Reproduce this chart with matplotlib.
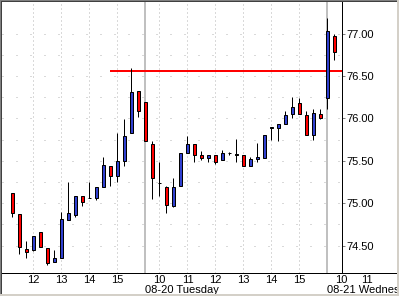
import matplotlib
matplotlib.use('Agg')
import matplotlib.pyplot as plt
from matplotlib.patches import Rectangle
from matplotlib.lines import Line2D
import matplotlib.transforms as mtransforms

plt.rcParams['font.family'] = ['Liberation Sans', 'DejaVu Sans']

# ---- data (15-minute bars) ----
opens = [75.12, 74.87, 74.46, 74.45, 74.66, 74.47, 74.31, 74.355, 74.80, 74.86,
         75.09, 75.06, 75.06, 75.19, 75.44, 75.32, 75.50, 75.83, 76.32,
         76.19, 75.70, 75.245, 75.19, 74.97, 75.20, 75.59, 75.70, 75.565, 75.54,
         75.565, 75.505, 75.59, 75.575, 75.565, 75.435, 75.52, 75.53, 75.89, 75.885,
         75.93, 76.05, 76.18, 76.04, 75.81, 76.05,
         76.245, 76.97]
highs = [75.12, 74.87, 74.56, 74.62, 74.66, 74.47, 74.45, 74.90, 75.25, 75.09,
         75.09, 75.25, 75.19, 75.55, 75.44, 75.83, 75.99, 76.59, 76.32,
         76.19, 75.74, 75.49, 75.205, 75.30, 75.59, 75.79, 75.70, 75.62, 75.565,
         75.565, 75.63, 75.61, 75.76, 75.565, 75.545, 75.71, 75.80, 75.89, 75.94,
         76.09, 76.25, 76.24, 76.09, 76.11, 76.11,
         77.18, 77.00]
lows = [74.84, 74.40, 74.35, 74.44, 74.48, 74.27, 74.31, 74.355, 74.80, 74.84,
        74.97, 75.06, 75.04, 75.19, 75.20, 75.25, 75.44, 75.83, 76.02,
        75.74, 75.05, 75.09, 74.89, 74.955, 75.20, 75.59, 75.49, 75.51, 75.49,
        75.46, 75.505, 75.565, 75.49, 75.435, 75.435, 75.49, 75.53, 75.75, 75.74,
        75.93, 76.01, 76.05, 75.81, 75.75, 75.99,
        76.11, 76.69]
closes = [74.88, 74.49, 74.43, 74.62, 74.48, 74.30, 74.36, 74.81, 74.88, 75.09,
          75.01, 75.06, 75.19, 75.45, 75.32, 75.50, 75.79, 76.31, 76.085,
          75.74, 75.30, 75.235, 74.98, 75.19, 75.59, 75.70, 75.57, 75.54, 75.565,
          75.49, 75.595, 75.595, 75.575, 75.435, 75.52, 75.545, 75.80, 75.89, 75.93,
          76.04, 76.13, 76.05, 75.81, 76.06, 76.00,
          77.03, 76.78]

hour_positions = [3, 7, 11, 15, 21, 25, 29, 33, 37, 41, 47, 50.6]
hour_labels = ['12', '13', '14', '15', '10', '11', '12', '13', '14', '15', '10', '11']
day_starts = [19, 45]
day_labels = ['08-20 Tuesday', '08-21 Wednesday']
price_ticks = [74.50, 75.00, 75.50, 76.00, 76.50, 77.00]
grid_levels = [74.50, 74.75, 75.00, 75.25, 75.50, 75.75, 76.00, 76.25, 76.50, 76.75, 77.00]
resistance_level = 76.56
resistance_start = 14

# ---- figure geometry (pixels) ----
W, H = 399, 296
fig = plt.figure(figsize=(W / 100, H / 100), dpi=100)
fig.patch.set_facecolor('white')
ax_l, ax_r, ax_t, ax_b = 2, 341.7, 1, 273.3
ax = fig.add_axes([ax_l / W, 1 - ax_b / H, (ax_r - ax_l) / W, (ax_b - ax_t) / H])
ax.set_facecolor('white')
ax.set_xlim(-1.5, 47.03)
ax.set_ylim(74.1745, 77.3856)

px = 0.72  # one pixel in points

# grid
for lvl in grid_levels:
    ax.axhline(lvl, color='#b4b4b4', lw=px, dashes=(1, 13), zorder=1)
for hp in hour_positions:
    if hp < 46:
        ax.axvline(hp, color='#b4b4b4', lw=px, dashes=(1, 3), zorder=1)
for ds in day_starts:
    ax.axvline(ds, color='#c0c0c0', lw=2 * px, zorder=1.5)

# resistance line
ax.hlines(resistance_level, resistance_start - 0.1, 47.03, color='#ff0000', lw=2 * px, zorder=2)

# candles
bw = 0.52
for i, (o, h, l, c) in enumerate(zip(opens, highs, lows, closes)):
    ax.vlines(i, l, h, color='black', lw=px, zorder=3)
    if c > o:
        fc = '#3040d0'
    elif c < o:
        fc = '#ff0000'
    else:
        fc = 'black'
    bottom = min(o, c)
    height = max(abs(c - o), 0.004)
    ax.add_patch(Rectangle((i - bw / 2, bottom), bw, height, facecolor=fc,
                           edgecolor='black', lw=px, zorder=4))

# axes styling
for s in ['left', 'top', 'bottom']:
    ax.spines[s].set_visible(False)
ax.spines['right'].set_color('black')
ax.spines['right'].set_linewidth(px)
ax.yaxis.tick_right()
ax.set_yticks(price_ticks)
ax.set_yticklabels([f'{p:.2f}' for p in price_ticks])
ax.tick_params(axis='y', direction='out', length=2.2, width=px, color='#808080',
               pad=1, labelsize=8, labelcolor='black')
ax.set_xticks([])

# x labels
trans = mtransforms.blended_transform_factory(ax.transData, fig.transFigure)
for hp, lab in zip(hour_positions, hour_labels):
    ax.text(hp, 1 - 283.3 / H, lab, transform=trans, ha='center', va='baseline',
            fontsize=8, clip_on=False)
for ds, lab in zip(day_starts, day_labels):
    ax.text(ds - 0.1, 1 - 293.2 / H, lab, transform=trans, ha='left', va='baseline',
            fontsize=8, clip_on=False)

# bottom axis line across full width
fig.add_artist(Line2D([2 / W, 397 / W], [1 - ax_b / H] * 2, color='black', lw=px,
                      transform=fig.transFigure))

# window border
def frect(x, y, w, h, color):
    fig.add_artist(Rectangle((x / W, 1 - (y + h) / H), w / W, h / H, facecolor=color,
                             edgecolor='none', transform=fig.transFigure, zorder=10))

frect(0, 0, W, 1, '#808080')
frect(0, 0, 1, H, '#808080')
frect(1, 1, W - 2, 1, '#404040')
frect(1, 1, 1, H - 2, '#404040')
frect(W - 2, 0, 2, H, '#d4d0c8')
frect(0, H - 2, W, 2, '#d4d0c8')

fig.savefig('out.png', dpi=100)
